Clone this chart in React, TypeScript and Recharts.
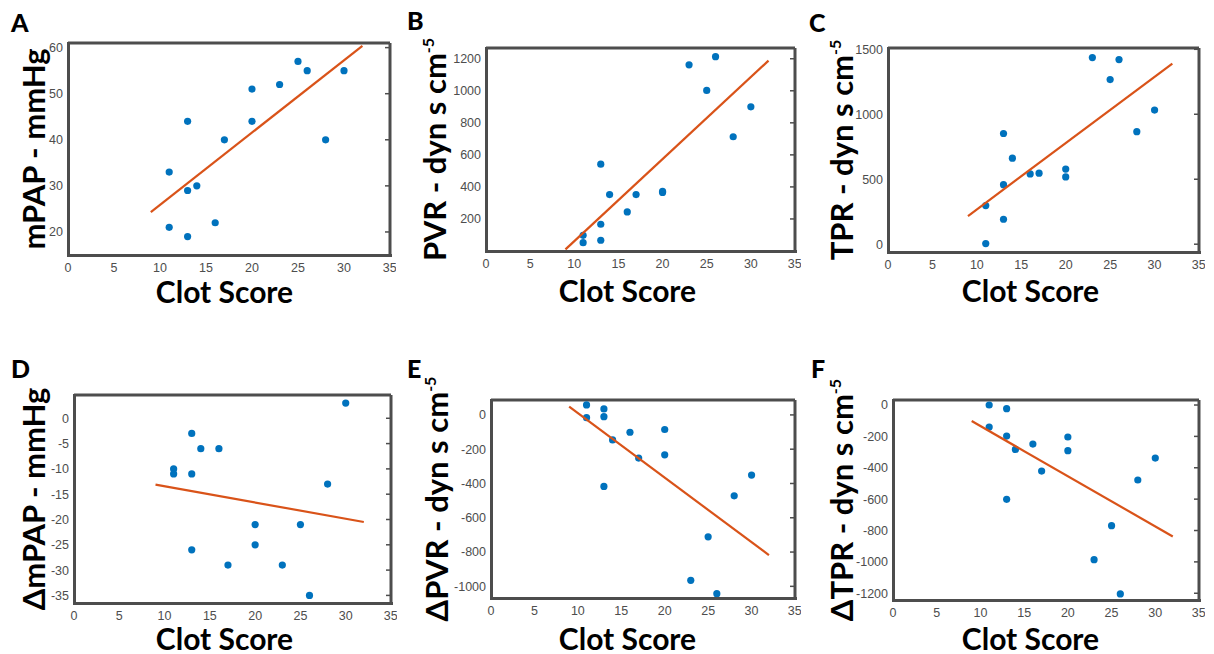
import React from 'react';
import { ScatterChart, Scatter, XAxis, YAxis } from 'recharts';

// clot score for each patient (same order in every panel)
const clotA = [11, 11, 13, 13, 13, 14, 16, 17, 20, 20, 23, 25, 26, 28, 30];
const mpap = [33, 21, 44, 29, 19, 30, 22, 40, 51, 44, 52, 57, 55, 40, 55];
const pvr = [98, 52, 542, 167, 67, 352, 244, 352, 365, 372, 1162, 1002, 1213, 713, 900];
const tpr = [297, 5, 852, 458, 192, 662, 541, 547, 578, 518, 1436, 1267, 1421, 866, 1032];
const dMpap = [-10, -11, -3, -11, -26, -6, -6, -29, -21, -25, -29, -21, -35, -13, 3];
const dPvr = [58, -16, 35, -10, -417, -146, -101, -252, -85, -233, -965, -711, -1043, -472, -351];
const dTpr = [0, -140, -23, -198, -601, -283, -249, -421, -204, -291, -986, -769, -1204, -478, -338];

// fitted line end points
const fitX = [9, 32];
const fitMpap = [24.3, 60.4];
const fitPvr = [10, 1188];
const fitTpr = [217, 1390];
const fitDMpap = [-13.1, -20.5];
const fitDPvr = [49, -818];
const fitDTpr = [-102, -838];

const xTicks = [0, 5, 10, 15, 20, 25, 30, 35];
const xDomain: [number, number] = [0, 35];
const ticksMpap = [20, 30, 40, 50, 60];
const ticksPvr = [200, 400, 600, 800, 1000, 1200];
const ticksTpr = [0, 500, 1000, 1500];
const ticksDMpap = [-35, -30, -25, -20, -15, -10, -5, 0];
const ticksDPvr = [-1000, -800, -600, -400, -200, 0];
const ticksDTpr = [-1200, -1000, -800, -600, -400, -200, 0];

const BOX = '#4d4d4d';
const TICK_FONT = { fontFamily: 'Liberation Sans, Arial, sans-serif', fontSize: 12.5, fill: '#4d4d4d' };
const TITLE_FONT = 'Lato, sans-serif';

const pts = (xs: number[], ys: number[]) => xs.map((x, i) => ({ x, y: ys[i] }));

type PanelProps = {
  letter: string;
  label: string;
  delta?: boolean;
  sup?: boolean;
  ys: number[];
  fit: number[];
  yTicks: number[];
  yDomain: [number, number];
  box: [number, number, number, number]; // left, top, right, bottom
  labelOffset: number;
  letterPos: [number, number];
  titleY: number;
  titleX: number;
};

const LW = 60;
const BH = 30;
const MT = 6;
const MR = 6;
const AX = 6; // frame axis size

const noShape = () => <g />;

function Panel(p: PanelProps) {
  const [l, t, r, b] = p.box;
  const w = r - l + LW + MR;
  const h = b - t + BH + MT;
  // top / right box edges with inward ticks
  const frame = {
    stroke: BOX,
    strokeWidth: 3,
    tickLine: { strokeWidth: 1.5 },
    tickSize: 5,
    mirror: true,
    allowDataOverflow: true,
    type: 'number' as const,
    tickFormatter: () => '',
  };
  // labelled axes: tick text only
  const labels = {
    axisLine: false,
    tickLine: false,
    type: 'number' as const,
    tick: TICK_FONT,
    tickSize: 0,
  };
  const cy = (t + b) / 2;
  const lx = l - p.labelOffset;
  return (
    <>
      <div style={{ position: 'absolute', left: l - LW, top: t - MT }}>
        <ScatterChart width={w} height={h} margin={{ top: MT, right: MR, bottom: 0, left: 0 }}>
          <XAxis {...labels} dataKey="x" xAxisId={0} domain={xDomain} ticks={xTicks} height={BH} tickMargin={8} />
          <YAxis {...labels} dataKey="y" yAxisId={0} domain={p.yDomain} ticks={p.yTicks} width={LW} tickMargin={5} />
          <XAxis {...frame} xAxisId="ft" orientation="top" domain={xDomain} ticks={xTicks} height={AX} />
          <YAxis {...frame} yAxisId="fr" orientation="right" domain={p.yDomain} ticks={p.yTicks} width={AX} />
          <Scatter data={pts(clotA, p.ys)} fill="#0072BD" shape={(s: any) => <circle cx={s.cx} cy={s.cy} r={3.6} fill="#0072BD" />} isAnimationActive={false} />
          <Scatter data={pts(fitX, p.fit)} line={{ stroke: '#D95319', strokeWidth: 2.2 }} shape={noShape} isAnimationActive={false} />
        </ScatterChart>
      </div>
      <svg style={{ position: 'absolute', left: 0, top: 0, overflow: 'visible', pointerEvents: 'none' }} width={1} height={1}>
        <text x={p.letterPos[0]} y={p.letterPos[1]} fontFamily={TITLE_FONT} fontWeight={900} fontSize={25} fill="#000">{p.letter}</text>
        <text x={p.titleX} y={p.titleY} textAnchor="middle" fontFamily={TITLE_FONT} fontWeight={700} fontSize={30} fill="#000">Clot Score</text>
        <text transform={`translate(${lx},${cy}) rotate(-90)`} textAnchor="middle" fontFamily={TITLE_FONT} fontWeight={700} fontSize={31} fill="#000">
          {p.delta ? 'Δ' : ''}{p.label}
          {p.sup ? <tspan fontSize={16} dy={-12}>-5</tspan> : null}
        </text>
      </svg>
      {/* left and bottom edges of the axes box */}
      <div style={{
        position: 'absolute', left: l - 1.5, top: t - 1.5, width: r - l, height: b - t, zIndex: 10,
        borderLeft: `3px solid ${BOX}`, borderBottom: `3px solid ${BOX}`, pointerEvents: 'none',
      }} />
    </>
  );
}

export default function App() {
  return (
    <div style={{ position: 'absolute', left: 0, top: 0, width: 1214, height: 654, background: '#fff' }}>
      <Panel letter="A" label="mPAP - mmHg" ys={mpap} fit={fitMpap} yTicks={ticksMpap} yDomain={[15, 61]}
        box={[68, 43, 390, 255]} labelOffset={23} letterPos={[11, 32]} titleX={224.5} titleY={303} />
      <Panel letter="B" label="PVR - dyn s cm" sup ys={pvr} fit={fitPvr} yTicks={ticksPvr} yDomain={[0, 1267]}
        box={[486, 48, 795, 251]} labelOffset={40} letterPos={[407, 30]} titleX={627.5} titleY={302} />
      <Panel letter="C" label="TPR - dyn s cm" sup ys={tpr} fit={fitTpr} yTicks={ticksTpr} yDomain={[-60, 1510]}
        box={[888, 48, 1199, 252]} labelOffset={35} letterPos={[809, 32]} titleX={1030.5} titleY={302} />
      <Panel letter="D" label="mPAP - mmHg" delta ys={dMpap} fit={fitDMpap} yTicks={ticksDMpap} yDomain={[-36.5, 4.6]}
        box={[74, 395, 391, 603]} labelOffset={29} letterPos={[11, 378]} titleX={224.5} titleY={650} />
      <Panel letter="E" label="PVR - dyn s cm" delta sup ys={dPvr} fit={fitDPvr} yTicks={ticksDPvr} yDomain={[-1068, 87]}
        box={[491, 400, 795, 598]} labelOffset={43} letterPos={[407, 378]} titleX={627.5} titleY={650} />
      <Panel letter="F" label="TPR - dyn s cm" delta sup ys={dTpr} fit={fitDTpr} yTicks={ticksDTpr} yDomain={[-1243, 32]}
        box={[893, 400, 1199, 600]} labelOffset={40} letterPos={[811, 378]} titleX={1030.5} titleY={650} />
    </div>
  );
}
